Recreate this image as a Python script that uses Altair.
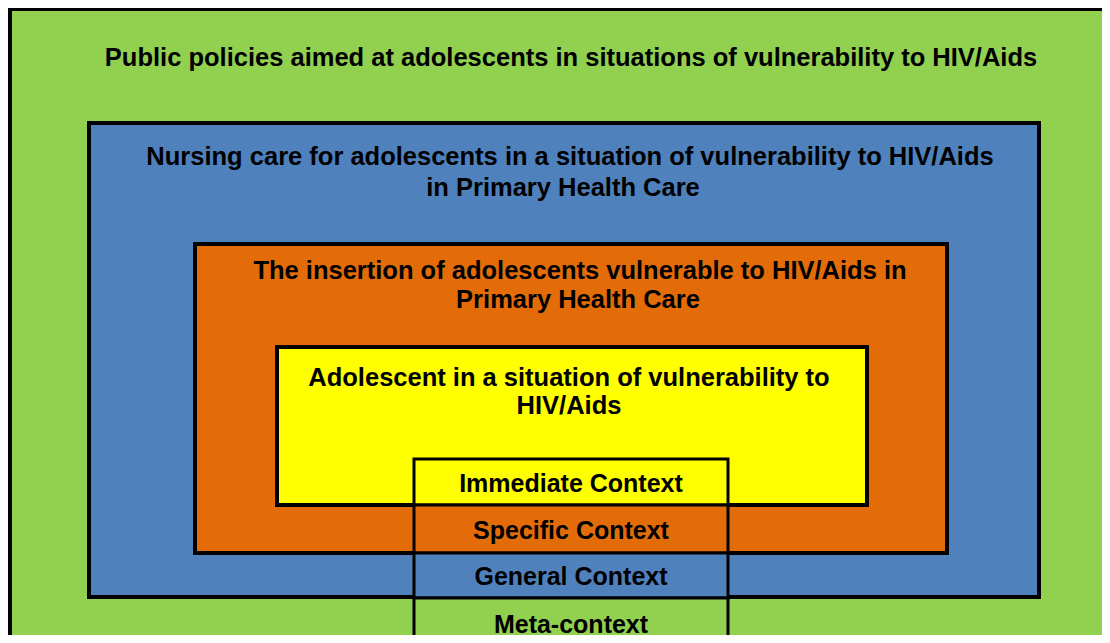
import altair as alt
import pandas as pd

# Nested boxes (outer to inner), in reference pixel coordinates
box_names = ["policies", "nursing", "insertion", "adolescent"]
box_x0 = [10, 89, 195, 277]
box_x1 = [1130, 1039, 947, 867]
box_y0 = [9, 123, 244, 347]
box_y1 = [670, 597, 553, 505]
box_fill = ["#92D050", "#4F81BD", "#E36C09", "#FFFF00"]

# Context column cells
ctx_labels = ["Immediate Context", "Specific Context", "General Context", "Meta-context"]
ctx_x0 = [414, 414, 414, 414]
ctx_x1 = [728, 728, 728, 728]
ctx_y0 = [459, 505, 553, 598]
ctx_y1 = [505, 553, 598, 670]
ctx_fill = ["#FFFF00", "#E36C09", "#4F81BD", "#92D050"]

# Box titles (one row per line)
title_lines = [
    "Public policies aimed at adolescents in situations of vulnerability to HIV/Aids",
    "Nursing care for adolescents in a situation of vulnerability to HIV/Aids",
    "in Primary Health Care",
    "The insertion of adolescents vulnerable to HIV/Aids in",
    "Primary Health Care",
    "Adolescent in a situation of vulnerability to",
    "HIV/Aids",
]
title_x = [571, 570, 563, 580, 578, 569, 569]
title_y = [58, 157, 188, 271, 300, 378, 406]

ctx_text_y = [484, 531, 577, 625]
ctx_text_x = [571, 571, 571, 571]

boxes = pd.DataFrame({"name": box_names, "x0": box_x0, "x1": box_x1,
                      "y0": box_y0, "y1": box_y1, "fill": box_fill})
ctx = pd.DataFrame({"label": ctx_labels, "x0": ctx_x0, "x1": ctx_x1,
                    "y0": ctx_y0, "y1": ctx_y1, "fill": ctx_fill,
                    "tx": ctx_text_x, "ty": ctx_text_y})
titles = pd.DataFrame({"text": title_lines, "x": title_x, "y": title_y})

W, H = 1094, 627
xs = alt.Scale(domain=[8, 8 + W], nice=False, zero=False)
ys = alt.Scale(domain=[8, 8 + H], nice=False, zero=False, reverse=True)

rects = alt.Chart(boxes).mark_rect(stroke="black", strokeWidth=4, clip=True).encode(
    x=alt.X("x0:Q", scale=xs, axis=None),
    x2="x1:Q",
    y=alt.Y("y0:Q", scale=ys, axis=None),
    y2="y1:Q",
    fill=alt.Fill("fill:N", scale=None),
    order=alt.Order("x0:Q"),
)

ctx_rects = alt.Chart(ctx).mark_rect(stroke="black", strokeWidth=3, clip=True).encode(
    x=alt.X("x0:Q", scale=xs, axis=None),
    x2="x1:Q",
    y=alt.Y("y0:Q", scale=ys, axis=None),
    y2="y1:Q",
    fill=alt.Fill("fill:N", scale=None),
)

font = "Liberation Sans"
title_text = alt.Chart(titles).mark_text(
    font=font, fontWeight="bold", fontSize=25.5, color="black",
    align="center", baseline="middle"
).encode(
    x=alt.X("x:Q", scale=xs, axis=None),
    y=alt.Y("y:Q", scale=ys, axis=None),
    text="text:N",
)

ctx_text = alt.Chart(ctx).mark_text(
    font=font, fontWeight="bold", fontSize=25, color="black",
    align="center", baseline="middle"
).encode(
    x=alt.X("tx:Q", scale=xs, axis=None),
    y=alt.Y("ty:Q", scale=ys, axis=None),
    text="label:N",
)

chart = alt.layer(rects, ctx_rects, title_text, ctx_text).properties(
    width=W, height=H, padding=0, background="white"
).configure_view(stroke=None)

chart.save("out.html", embed_options={"renderer": "svg", "actions": False})
